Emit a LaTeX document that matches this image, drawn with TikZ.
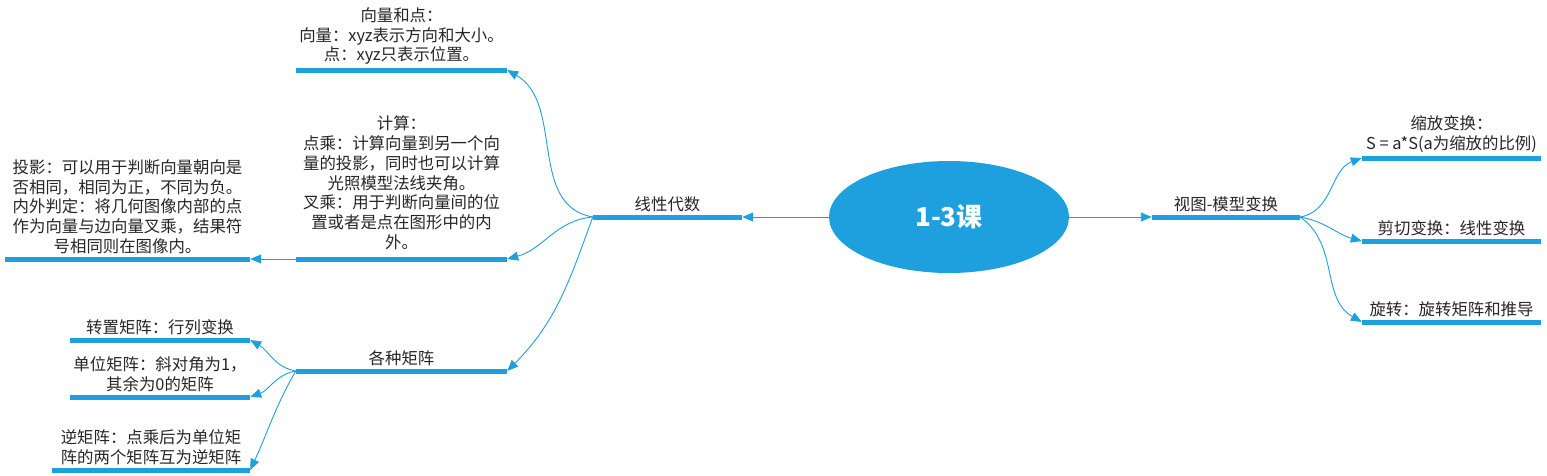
\documentclass[tikz,border=0pt]{standalone}
\usepackage{fontspec}
\setmainfont{Noto Sans CJK SC}
\usepackage{tikz}
\usetikzlibrary{positioning, arrows.meta, shapes.geometric}

\definecolor{mapblue}{HTML}{1EA0DE}
\definecolor{mapink}{HTML}{262626}

\begin{document}
\begin{tikzpicture}[
    x=1pt, y=-1pt,
    topic/.style={anchor=south, inner xsep=0pt, inner ysep=5pt, align=center, text=mapink,
                  font=\fontsize{16.4}{19.8}\selectfont},
    bar/.style={mapblue, line width=5pt},
    link/.style={-{Triangle[length=11pt, width=9pt]}, mapblue, line width=0.9pt}
]
    \useasboundingbox (0,0) rectangle (1547,475);

    % Root
    \node[ellipse, fill=mapblue, minimum width=240pt, minimum height=112pt, text=white,
          font=\fontsize{26}{30}\selectfont\bfseries] (root) at (949,217) {1-3课};

    % Main branches
    \node[topic, minimum width=149pt] (linalg) at (667.5,217) {线性代数};
    \node[topic, minimum width=148pt] (view) at (1226,217) {视图-模型变换};

    % Linear algebra
    \node[topic, minimum width=211pt] (vecpt) at (401.5,70) {向量和点：\\向量：xyz表示方向和大小。\\点：xyz只表示位置。};
    \node[topic, minimum width=211pt, inner ysep=9pt] (calc) at (401.5,259) {计算：\\点乘：计算向量到另一个向\\量的投影，同时也可以计算\\光照模型法线夹角。\\叉乘：用于判断向量间的位\\置或者是点在图形中的内\\外。};
    \node[topic, minimum width=245pt] (proj) at (127.5,259) {投影：可以用于判断向量朝向是\\否相同，相同为正，不同为负。\\内外判定：将几何图像内部的点\\作为向量与边向量叉乘，结果符\\号相同则在图像内。};
    \node[topic, minimum width=211pt] (matrices) at (401.5,371) {各种矩阵};

    % Matrices
    \node[topic, minimum width=180pt] (transpose) at (160,340) {转置矩阵：行列变换};
    \node[topic, minimum width=180pt] (identity) at (160,397) {单位矩阵：斜对角为1，\\其余为0的矩阵};
    \node[topic, minimum width=198pt] (inverse) at (151,470) {逆矩阵：点乘后为单位矩\\阵的两个矩阵互为逆矩阵};

    % Transforms
    \node[topic, minimum width=179pt] (scale) at (1451.5,158) {缩放变换：\\S = a*S(a为缩放的比例)};
    \node[topic, minimum width=179pt] (shear) at (1451.5,241) {剪切变换：线性变换};
    \node[topic, minimum width=179pt] (rotate) at (1451.5,322) {旋转：旋转矩阵和推导};

    % Bars
    \foreach \n in {linalg, view, vecpt, calc, proj, matrices, transpose, identity, inverse, scale, shear, rotate}
        \draw[bar] (\n.south west) -- (\n.south east);

    % Links
    \draw[link] (root) -- (linalg.south east);
    \draw[link] (root) -- (view.south west);

    \draw[link] (linalg.south west) to[out=170, in=-30] (vecpt.south east);
    \draw[link] (linalg.south west) to[out=185, in=15] (calc.south east);
    \draw[link] (linalg.south west) to[out=250, in=45] (matrices.south east);
    \draw[link] (calc.south west) -- (proj.south east);

    \draw[link] (matrices.south west) to[out=170, in=-30] (transpose.south east);
    \draw[link] (matrices.south west) to[out=190, in=20] (identity.south east);
    \draw[link] (matrices.south west) to[out=240, in=65] (inverse.south east);

    \draw[link] (view.south east) to[out=10, in=200] (scale.south west);
    \draw[link] (view.south east) to[out=-10, in=165] (shear.south west);
    \draw[link] (view.south east) to[out=-35, in=150] (rotate.south west);

\end{tikzpicture}
\end{document}
